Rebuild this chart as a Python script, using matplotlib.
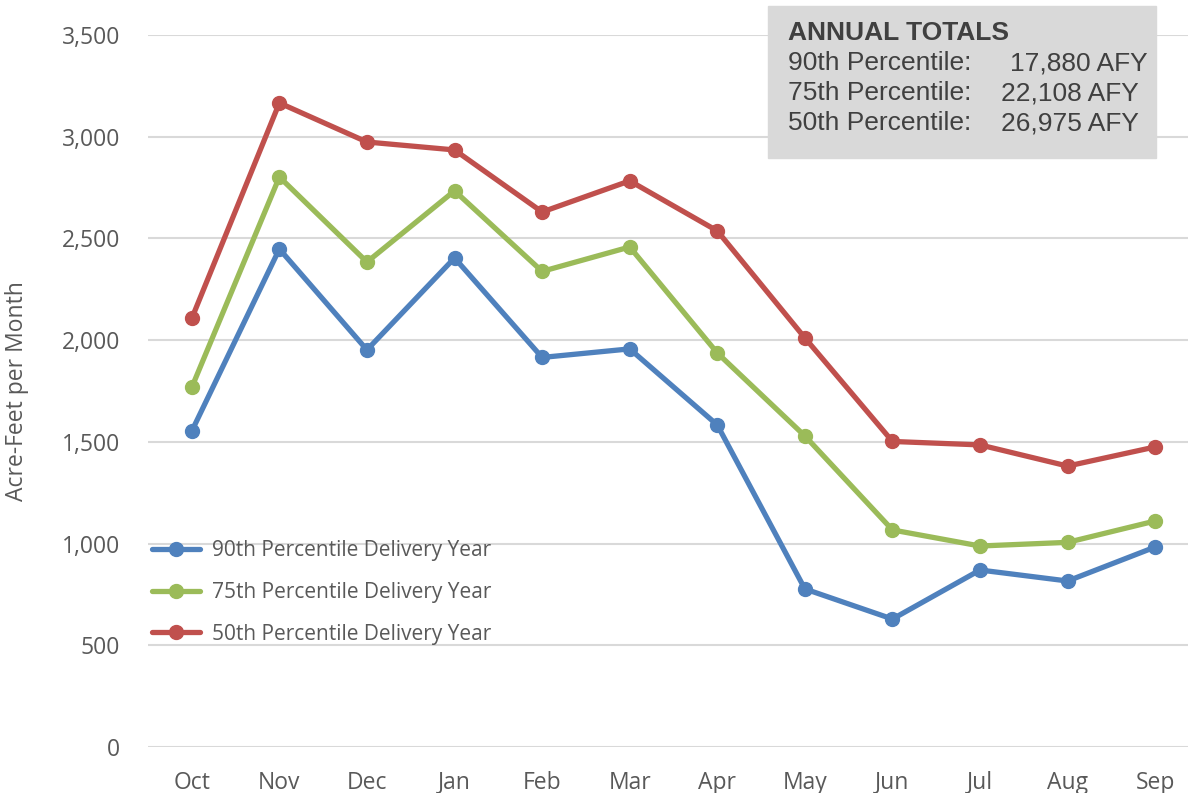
import matplotlib
matplotlib.use("Agg")
import matplotlib.pyplot as plt
from matplotlib.ticker import FuncFormatter

plt.rcParams['font.family'] = ['Open Sans', 'DejaVu Sans']

months = ['Oct', 'Nov', 'Dec', 'Jan', 'Feb', 'Mar', 'Apr', 'May', 'Jun', 'Jul', 'Aug', 'Sep']
p90 = [1553, 2448, 1952, 2404, 1915, 1957, 1583, 777, 629, 870, 816, 983]
p75 = [1768, 2802, 2384, 2734, 2338, 2458, 1937, 1529, 1067, 988, 1006, 1111]
p50 = [2107, 3166, 2974, 2935, 2630, 2783, 2537, 2011, 1502, 1485, 1381, 1475]
series_names = ['90th Percentile Delivery Year', '75th Percentile Delivery Year',
                '50th Percentile Delivery Year']
pct_labels = ['90th', '75th', '50th']
totals = ['17,880', '22,108', '26,975']

colors = ['#4F81BD', '#9BBB59', '#C0504D']
txt = '#595959'

fig = plt.figure(figsize=(11.88, 7.93), dpi=100)
ax = fig.add_axes([148 / 1188, 46 / 793, 1051 / 1188, 712 / 793])

x = range(len(months))
for vals, name, c in zip([p90, p75, p50], series_names, colors):
    ax.plot(x, vals, color=c, lw=3.8, marker='o', ms=10, label=name,
            solid_capstyle='round', zorder=3)

ax.set_xlim(-0.5, 11.5)
ax.set_ylim(0, 3500)
ax.set_yticks(range(0, 3501, 500))
ax.yaxis.set_major_formatter(FuncFormatter(lambda v, p: f'{int(v):,}'))
ax.set_xticks(list(x))
ax.set_xticklabels(months)
ax.grid(axis='y', color='#D9D9D9', lw=1.5, zorder=0)
for s in ax.spines.values():
    s.set_visible(False)
ax.tick_params(length=0, labelsize=16.5, colors=txt)
ax.tick_params(axis='x', pad=17)
ax.tick_params(axis='y', pad=20)
ax.set_ylabel('Acre-Feet per Month', fontsize=16.5, color=txt, labelpad=24)

leg = ax.legend(loc='upper left', bbox_to_anchor=(152 / 1188, 1 - 540 / 793),
                bbox_transform=fig.transFigure, frameon=False, fontsize=15,
                handlelength=2.3, handletextpad=0.6, labelspacing=1.0,
                borderpad=0, borderaxespad=0)
for t in leg.get_texts():
    t.set_color(txt)

# annual totals box
box = plt.Rectangle((768 / 1188, 1 - 158 / 793), 388 / 1188, 152 / 793,
                    transform=fig.transFigure, color='#D9D9D9', zorder=5)
fig.patches.append(box)
fig.text(788 / 1188, 1 - 33 / 793, 'ANNUAL TOTALS', fontsize=19, fontweight='bold',
         color='#404040', family='Liberation Sans', va='center', zorder=6)
val_x = [1010, 1001, 1001]
for i, t in enumerate(totals):
    yy = 1 - (63 + 30 * i) / 793
    fig.text(788 / 1188, yy, f'{pct_labels[i]} Percentile:', fontsize=19,
             color='#404040', family='Liberation Sans', va='center', zorder=6)
    fig.text(val_x[i] / 1188, yy, f'{t} AFY', fontsize=19, color='#404040',
             family='Liberation Sans', va='center', zorder=6)

fig.savefig('out.png', dpi=100)
